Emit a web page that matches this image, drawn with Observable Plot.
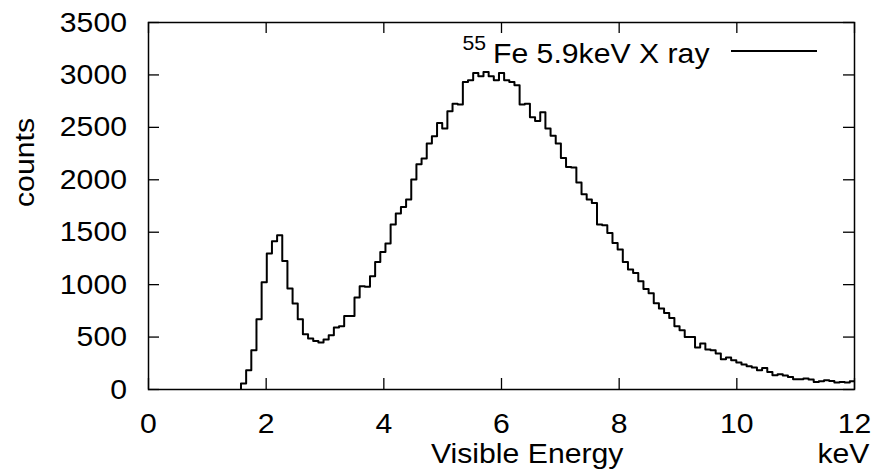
<!DOCTYPE html>
<html><head><meta charset="utf-8">
<script src="https://cdn.jsdelivr.net/npm/d3@7"></script>
<script src="https://cdn.jsdelivr.net/npm/@observablehq/plot@0.6"></script>
<style>body{margin:0;background:#fff} svg{display:block}</style>
</head><body><div id="chart"></div>
<script>
// histogram bins (keV)
const binStart = 1.572;
const binWidth = 0.0877;
const counts = [
  57, 184, 375, 670, 1023, 1296, 1414, 1471, 1226, 963,
  820, 670, 527, 486, 463, 448, 477, 518, 591, 603,
  700, 700, 877, 985, 980, 1080, 1216, 1312, 1392, 1573,
  1678, 1741, 1811, 2002, 2148, 2202, 2345, 2415, 2542, 2488,
  2653, 2726, 2717, 2932, 2949, 3018, 2987, 3028, 2987, 2949,
  3018, 2949, 2932, 2901, 2717, 2726, 2596, 2560, 2644, 2488,
  2420, 2345, 2207, 2122, 2116, 1973, 1862, 1811, 1779, 1573,
  1566, 1493, 1398, 1335, 1216, 1144, 1112, 1032, 958, 918,
  823, 772, 730, 683, 603, 565, 501, 501, 400, 438,
  381, 375, 343, 289, 305, 279, 257, 238, 222, 210,
  184, 206, 168, 136, 146, 133, 120, 98, 98, 105,
  95, 72, 79, 89, 82, 67, 72, 67, 79
];
const xTicks = [0, 2, 4, 6, 8, 10, 12];
const yTicks = [0, 500, 1000, 1500, 2000, 2500, 3000, 3500];
const xLabel = "Visible Energy";
const xUnit = "keV";
const yLabel = "counts";
const legendSup = "55";
const legendText = "Fe 5.9keV X ray";

const pts = [{x: binStart, y: 0}]
  .concat(counts.map((c, i) => ({x: binStart + i * binWidth, y: c})))
  .concat([{x: binStart + counts.length * binWidth, y: counts[counts.length - 1]}]);

const W = 874, H = 472, mL = 148, mR = 20, mT = 22, mB = 83;
const innerW = W - mL - mR, innerH = H - mT - mB;
const font = "'Liberation Sans', Arial, Helvetica, sans-serif";
const fs = 28.5;
const sx = 1.06;

const chart = Plot.plot({
  width: W, height: H,
  marginLeft: mL, marginRight: mR, marginTop: mT, marginBottom: mB,
  style: {fontFamily: font, fontSize: fs + "px", background: "#fff", color: "#000"},
  x: {domain: [0, 12]},
  y: {domain: [0, 3500]},
  marks: [
    Plot.line(pts, {x: "x", y: "y", curve: "step-after", stroke: "#000", strokeWidth: 2, clip: true}),
    Plot.tickX(xTicks, {x: d => d, insetTop: innerH - 11, stroke: "#000", strokeWidth: 1.3}),
    Plot.tickX(xTicks, {x: d => d, insetBottom: innerH - 11, stroke: "#000", strokeWidth: 1.3}),
    Plot.tickY(yTicks, {y: d => d, insetRight: innerW - 11, stroke: "#000", strokeWidth: 1.3}),
    Plot.tickY(yTicks, {y: d => d, insetLeft: innerW - 11, stroke: "#000", strokeWidth: 1.3}),
    Plot.frame({stroke: "#000", strokeWidth: 1.5}),
    Plot.axisX({ticks: xTicks, tickSize: 0, tickPadding: 23, tickFormat: d => String(d), label: null, fill: "#000", fontSize: fs}),
    Plot.axisY({ticks: yTicks, tickSize: 0, tickPadding: 21.5, tickFormat: d => String(d), label: null, fill: "#000", fontSize: fs}),
    Plot.text([xLabel], {frameAnchor: "bottom", lineAnchor: "middle", dx: 25.7, dy: 64.5, fill: "#000", fontSize: fs}),
    Plot.text([xUnit], {frameAnchor: "bottom-right", lineAnchor: "middle", textAnchor: "end", dx: 15, dy: 64.5, fill: "#000", fontSize: fs}),
    Plot.text([yLabel], {frameAnchor: "left", lineAnchor: "middle", rotate: -90, dx: -123.8, dy: 1, fill: "#000", fontSize: fs}),
    Plot.text([legendText], {frameAnchor: "top-right", lineAnchor: "middle", textAnchor: "end", dx: -145, dy: 31.8, fill: "#000", fontSize: fs}),
    Plot.text([legendSup], {frameAnchor: "top-left", lineAnchor: "middle", textAnchor: "start", dx: 462 - mL, dy: 21, fill: "#000", fontSize: 20})
  ]
});

chart.querySelectorAll("text").forEach(t => {
  const x = +t.getAttribute("x") || 0, y = +t.getAttribute("y") || 0;
  const tr = t.getAttribute("transform") || "";
  t.setAttribute("transform", `${tr} translate(${x},${y}) scale(${sx},1) translate(${-x},${-y})`);
});

// legend key line
d3.select(chart).append("line")
  .attr("x1", 731).attr("x2", 817).attr("y1", 51).attr("y2", 51)
  .attr("stroke", "#000").attr("stroke-width", 2);

document.getElementById("chart").appendChild(chart);
</script>
</body></html>
